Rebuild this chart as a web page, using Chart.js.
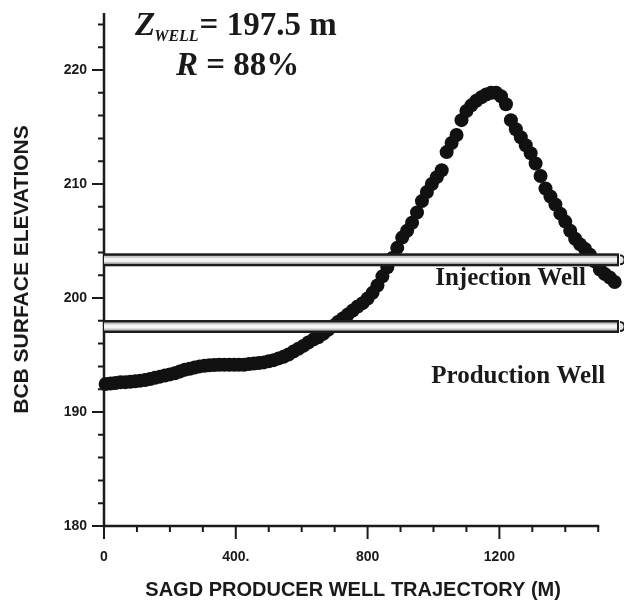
<!DOCTYPE html>
<html><head><meta charset="utf-8">
<script src="https://cdn.jsdelivr.net/npm/chart.js@4.4.0/dist/chart.umd.min.js"></script>
<style>html,body{margin:0;padding:0;background:#fff}#wrap{width:624px;height:611px}</style>
</head><body><div id="wrap"><canvas id="c" width="624" height="611"></canvas></div>
<script>
// ---- data ----
const trajectory = [5,20,35,50,65,80,95,110,125,140,
  155,170,185,200,215,230,245,260,275,290,
  305,320,335,350,365,380,395,410,425,440,
  455,470,485,500,515,530,545,560,575,590,
  605,620,635,650,665,680,695,710,725,740,
  755,770,785,800,815,830,845,860,875,890,
  905,920,935,950,965,980,995,1010,1025,1040,
  1055,1070,1085,1100,1115,1130,1145,1160,1175,1190,
  1205,1220,1235,1250,1265,1280,1295,1310,1325,1340,
  1355,1370,1385,1400,1415,1430,1445,1460,1475,1490,
  1505,1520,1535,1550];
const elevation = [192.45,192.5,192.55,192.6,192.62,192.65,192.7,192.75,192.8,192.9,
  193.0,193.1,193.2,193.3,193.4,193.55,193.7,193.8,193.9,194.0,
  194.05,194.1,194.12,194.15,194.15,194.15,194.15,194.15,194.15,194.2,
  194.25,194.3,194.35,194.45,194.55,194.7,194.85,195.05,195.3,195.55,
  195.8,196.1,196.35,196.55,196.85,197.2,197.55,197.9,198.2,198.55,
  198.9,199.25,199.55,199.95,200.45,201.1,201.9,202.7,203.5,204.4,
  205.3,205.9,206.6,207.5,208.5,209.3,210.0,210.6,211.2,212.8,
  213.6,214.3,215.6,216.4,216.9,217.3,217.6,217.85,218.0,218.0,
  217.7,217.0,215.6,214.8,214.1,213.4,212.7,211.8,210.7,209.6,
  208.9,208.2,207.4,206.7,205.9,205.2,204.7,204.3,203.8,203.2,
  202.5,202.1,201.8,201.4];
const xTickValues = [0,400,800,1200];
const xTickLabels = ['0','400.','800','1200'];
const yTickValues = [180,190,200,210,220];
const injectionWellElev = 203.35;
const productionWellElev = 197.5;
const wellNames = ['Injection Well','Production Well'];
const zWell = '197.5';
const recovery = '88%';
const xTitle = 'SAGD PRODUCER WELL TRAJECTORY (M)';
const yTitle = 'BCB SURFACE ELEVATIONS';

const X_MIN = 0, X_AXIS_END = 1500, X_VIEW_MAX = 1557, Y_MIN = 180, Y_MAX = 225;
const INK = '#1a1a1a';

const points = trajectory.map((t,i)=>({x:t, y:elevation[i]}));

const axesPlugin = {
  id:'axesDraw',
  beforeDatasetsDraw(chart){
    const {ctx, scales:{x,y}} = chart;
    const x0 = x.getPixelForValue(X_MIN), xe = x.getPixelForValue(X_AXIS_END);
    const yb = y.getPixelForValue(Y_MIN), yt = y.getPixelForValue(Y_MAX);
    ctx.save();
    ctx.strokeStyle = INK; ctx.lineWidth = 2.5;
    ctx.beginPath();
    ctx.moveTo(x0, yt); ctx.lineTo(x0, yb+1.2);
    ctx.moveTo(x0-1.2, yb); ctx.lineTo(xe+1, yb);
    ctx.stroke();
    ctx.lineWidth = 2;
    ctx.beginPath();
    for (let v = Y_MIN; v <= Y_MAX-1; v += 2){
      const py = y.getPixelForValue(v);
      const len = (v % 10 === 0) ? 12 : 6;
      ctx.moveTo(x0, py); ctx.lineTo(x0-len, py);
    }
    for (let v = X_MIN; v <= X_AXIS_END; v += 100){
      const px = x.getPixelForValue(v);
      const len = (v % 400 === 0) ? 13 : 6;
      ctx.moveTo(px, yb); ctx.lineTo(px, yb+len);
    }
    ctx.stroke();
    ctx.fillStyle = INK;
    ctx.font = 'bold 20px "Liberation Sans", Arial, sans-serif';
    ctx.textAlign = 'center'; ctx.textBaseline = 'middle';
    ctx.fillText(xTitle, (x0 + xe) / 2 + 2, 590);
    ctx.restore();
  }
};

function drawWell(ctx, xl, xr, yc){
  ctx.fillStyle = '#1c1c1c';
  ctx.fillRect(xl, yc-6.5, xr-xl, 13);
  ctx.fillStyle = '#c4c4c4';
  ctx.fillRect(xl, yc-4, xr-xl-2, 8);
  ctx.fillStyle = '#f4f4f4';
  ctx.fillRect(xl, yc-2, xr-xl-2, 4);
  ctx.fillStyle = '#1c1c1c';
  ctx.beginPath(); ctx.arc(xr+1, yc, 5.5, -Math.PI/2, Math.PI/2); ctx.fill();
  ctx.fillStyle = '#e6e6e6';
  ctx.beginPath(); ctx.arc(xr+1, yc, 3.5, -Math.PI/2, Math.PI/2); ctx.fill();
}

const overlayPlugin = {
  id:'overlay',
  afterDatasetsDraw(chart){
    const {ctx, scales:{x,y}} = chart;
    const xl = x.getPixelForValue(X_MIN);
    const xr = chart.width - 5;
    ctx.save();
    drawWell(ctx, xl, xr, y.getPixelForValue(injectionWellElev));
    drawWell(ctx, xl, xr, y.getPixelForValue(productionWellElev));
    ctx.fillStyle = INK;
    ctx.textAlign = 'center'; ctx.textBaseline = 'alphabetic';
    ctx.font = 'bold 25px "Liberation Serif"';
    ctx.fillText(wellNames[0], x.getPixelForValue(1234), y.getPixelForValue(201.14));
    ctx.fillText(wellNames[1], x.getPixelForValue(1257), y.getPixelForValue(192.54));
    ctx.textAlign = 'left';
    let xx = 135;
    ctx.font = 'italic bold 33px "Liberation Serif"';
    ctx.fillText('Z', xx, 35); xx += ctx.measureText('Z').width - 1;
    ctx.font = 'italic bold 16px "Liberation Serif"';
    ctx.fillText('WELL', xx, 41); xx += ctx.measureText('WELL').width + 1;
    ctx.font = 'bold 33px "Liberation Serif"';
    ctx.fillText('= ' + zWell + ' m', xx, 35);
    xx = 176;
    ctx.font = 'italic bold 33px "Liberation Serif"';
    ctx.fillText('R', xx, 75); xx += ctx.measureText('R').width;
    ctx.font = 'bold 33px "Liberation Serif"';
    ctx.fillText(' = ' + recovery, xx, 75);
    ctx.restore();
  }
};

const tickFont = {family:'"Liberation Sans", Arial, sans-serif', weight:'bold', size:14};

new Chart(document.getElementById('c'), {
  type:'scatter',
  data:{datasets:[{
    data: points,
    backgroundColor:'#111',
    borderColor:'#111',
    pointRadius:7,
    pointHoverRadius:7,
    pointBorderWidth:0,
    showLine:false,
    clip:false
  }]},
  options:{
    responsive:false,
    animation:false,
    devicePixelRatio:1,
    layout:{padding:{top:13, right:0, bottom:0, left:0}},
    plugins:{legend:{display:false}, tooltip:{enabled:false}},
    scales:{
      x:{
        type:'linear', min:X_MIN, max:X_VIEW_MAX,
        afterBuildTicks(s){ s.ticks = xTickValues.map(v=>({value:v})); },
        afterFit(s){ s.height = 85; s.paddingLeft = 0; s.paddingRight = 0; },
        ticks:{
          autoSkip:false, maxRotation:0, padding:23, color:INK, font:tickFont,
          callback:(v)=>{ const i = xTickValues.indexOf(v); return i>=0 ? xTickLabels[i] : ''; }
        },
        grid:{display:false, drawTicks:false},
        border:{display:false},
        title:{display:false}
      },
      y:{
        type:'linear', min:Y_MIN, max:Y_MAX,
        afterBuildTicks(s){ s.ticks = yTickValues.map(v=>({value:v})); },
        afterFit(s){ s.width = 104; s.paddingTop = 0; s.paddingBottom = 0; },
        ticks:{padding:17, color:INK, font:tickFont},
        grid:{display:false, drawTicks:false},
        border:{display:false},
        title:{display:true, text:yTitle, color:INK, font:{family:'"Liberation Sans", Arial, sans-serif', weight:'bold', size:21}, padding:{top:10,bottom:0}}
      }
    }
  },
  plugins:[axesPlugin, overlayPlugin]
});
</script>
</body></html>
